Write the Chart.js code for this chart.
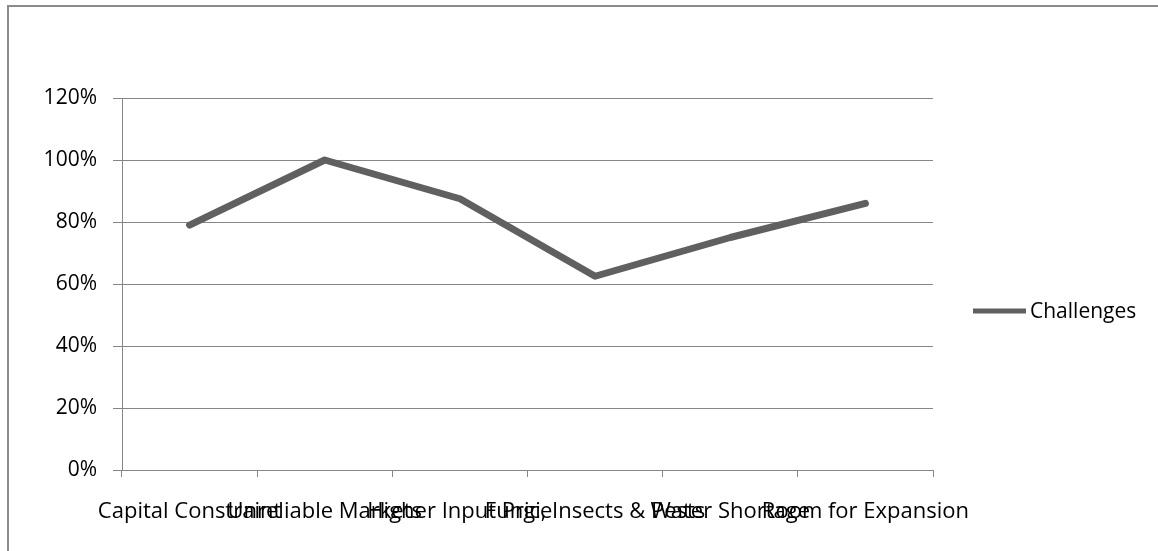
<!DOCTYPE html>
<html>
<head>
<meta charset="utf-8">
<script src="https://cdn.jsdelivr.net/npm/chart.js@4/dist/chart.umd.min.js"></script>
<style>
  html, body { margin: 0; padding: 0; background: #fff; overflow: hidden; }
  #wrap { position: relative; width: 1158px; height: 551px; }
  #frame { position: absolute; left: 7px; top: 5px; width: 1300px; height: 700px; border: 2px solid #8c8c8c; box-sizing: border-box; }
  canvas { position: absolute; left: 0; top: 0; }
</style>
</head>
<body>
<div id="wrap">
  <div id="frame"></div>
  <canvas id="c" width="1158" height="551"></canvas>
</div>
<script>
const categories = ["Capital Constraint", "Unreliable Markets", "Higher Input Price", "Fungi, Insects & Pests", "Water Shortage", "Room for Expansion"];
const seriesName = "Challenges";
const challenges = [79, 100, 87.5, 62.5, 75, 86];
const yTicks = [0, 20, 40, 60, 80, 100, 120];

const FONT = "'Open Sans', 'Liberation Sans', sans-serif";
const LINE_COLOR = "#606060";
const GRID_COLOR = "#868686";

const legendPlugin = {
  id: 'sideLegend',
  afterDraw(chart) {
    const ctx = chart.ctx;
    const ds = chart.data.datasets[0];
    const y = 311;
    ctx.save();
    ctx.strokeStyle = ds.borderColor;
    ctx.lineWidth = 5;
    ctx.lineCap = 'butt';
    ctx.beginPath();
    ctx.moveTo(973, y);
    ctx.lineTo(1026, y);
    ctx.stroke();
    ctx.fillStyle = '#000';
    ctx.font = "21px " + FONT;
    ctx.textBaseline = 'middle';
    ctx.textAlign = 'left';
    ctx.fillText(ds.label, 1030, y + 1);
    ctx.restore();
  }
};

new Chart(document.getElementById('c'), {
  type: 'line',
  data: {
    labels: categories,
    datasets: [{
      label: seriesName,
      data: challenges,
      borderColor: LINE_COLOR,
      backgroundColor: LINE_COLOR,
      borderWidth: 7,
      borderCapStyle: 'round',
      borderJoinStyle: 'round',
      pointRadius: 0,
      tension: 0,
      fill: false
    }]
  },
  options: {
    responsive: false,
    animation: false,
    devicePixelRatio: 1,
    layout: { padding: { left: 10, top: 98, right: 225, bottom: 0 } },
    plugins: { legend: { display: false }, tooltip: { enabled: false } },
    scales: {
      x: {
        type: 'category',
        offset: true,
        afterFit(scale) { scale.height = 81; },
        grid: {
          offset: true,
          drawOnChartArea: false,
          drawTicks: true,
          tickLength: 7,
          color: GRID_COLOR,
          lineWidth: 1
        },
        border: { display: true, color: GRID_COLOR, width: 1 },
        ticks: {
          autoSkip: false,
          maxRotation: 0,
          minRotation: 0,
          padding: 22,
          color: '#000',
          font: { family: FONT, size: 22 }
        }
      },
      y: {
        min: 0,
        max: 120,
        afterFit(scale) { scale.width = 112; },
        afterBuildTicks(scale) { scale.ticks = yTicks.map(v => ({ value: v })); },
        grid: {
          color: GRID_COLOR,
          lineWidth: 1,
          drawTicks: true,
          tickLength: 9
        },
        border: { display: true, color: GRID_COLOR, width: 1 },
        ticks: {
          padding: 16,
          color: '#000',
          font: { family: FONT, size: 21 },
          callback: v => v + '%'
        }
      }
    }
  },
  plugins: [legendPlugin]
});
</script>
</body>
</html>
